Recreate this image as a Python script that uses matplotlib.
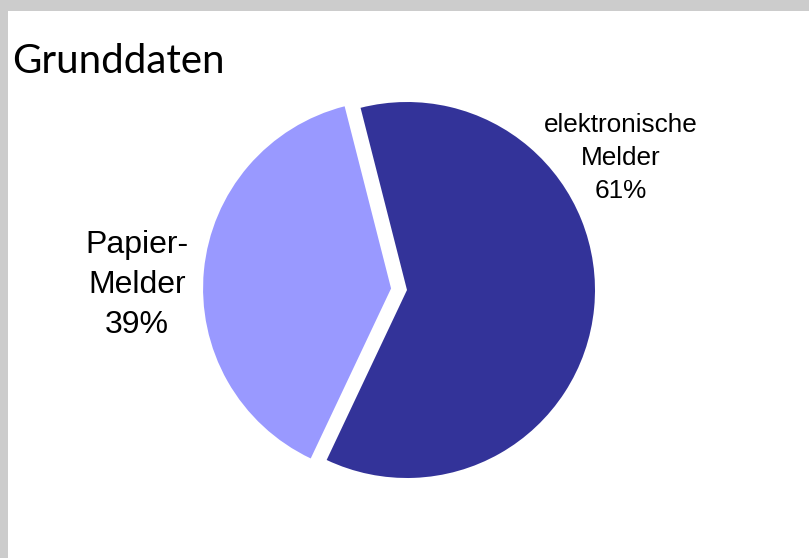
import matplotlib.pyplot as plt
from matplotlib.patches import Rectangle

# data
labels = ['elektronische\nMelder', 'Papier-\nMelder']
shares = [61, 39]
colors = ['#333399', '#9999FF']
title = 'Grunddaten'

W, H = 809, 558
fig = plt.figure(figsize=(W / 100, H / 100), dpi=100)
fig.patch.set_facecolor('#cccccc')

ax = fig.add_axes([0, 0, 1, 1])
ax.set_facecolor('none')
# white panel inside the grey frame
ax.add_patch(Rectangle((8, 0), W, H - 11, facecolor='white', edgecolor='none', zorder=0))
# explode is in data units here (axes spans pixels)
ax.pie(shares, colors=colors, startangle=104.3, counterclock=False,
       explode=[0, 16], radius=188, center=(407, H - 290),
       wedgeprops={'linewidth': 0, 'zorder': 2})
ax.set_xlim(0, W)
ax.set_ylim(0, H)
ax.set_axis_off()

# slice labels
fig.text(621 / W, 1 - 158 / H, f'{labels[0]}\n{shares[0]}%', ha='center', va='center',
         fontsize=18.8, family='Liberation Sans', linespacing=1.5)
fig.text(137 / W, 1 - 285 / H, f'{labels[1]}\n{shares[1]}%', ha='center', va='center',
         fontsize=23, family='Liberation Sans', linespacing=1.43)

fig.text(12 / W, 1 - 73 / H, title, ha='left', va='baseline', fontsize=29, family='Lato')

plt.savefig('out.png', dpi=100, facecolor=fig.get_facecolor())
